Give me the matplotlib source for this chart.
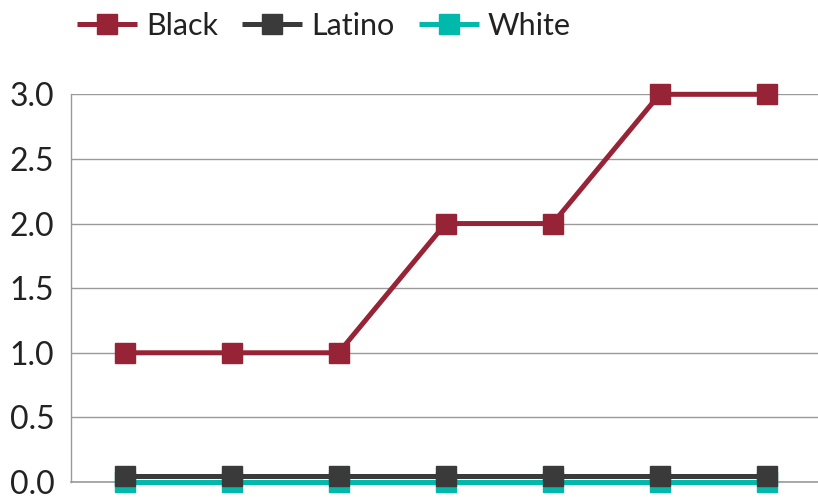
import numpy as np
import matplotlib
matplotlib.use('Agg')
import matplotlib.pyplot as plt
from matplotlib.transforms import offset_copy

plt.rcParams['font.family'] = ['Lato', 'DejaVu Sans']

# seven time points, no x labels shown in the picture
periods = list(range(7))
black = [1, 1, 1, 2, 2, 3, 3]
latino = [0, 0, 0, 0, 0, 0, 0]
white = [0, 0, 0, 0, 0, 0, 0]
yticks = [0.0, 0.5, 1.0, 1.5, 2.0, 2.5, 3.0]

col_black = '#972337'
col_latino = '#3a3a3a'
col_white = '#00b9aa'

fig = plt.figure(figsize=(8.18, 4.98), dpi=100)
ax = fig.add_axes([0.0868, 0.0321, 0.9132, 0.7785])

lw = 3.6
ms = 14.4
# white series sits on zero, latino drawn a few pixels above it
ax.plot(periods, white, color=col_white, lw=lw, marker='s', ms=ms,
        clip_on=False, zorder=3, label='White', solid_capstyle='butt')
up = offset_copy(ax.transData, fig=fig, x=0, y=6, units='dots')
ax.plot(periods, latino, color=col_latino, lw=lw, marker='s', ms=ms,
        clip_on=False, zorder=4, label='Latino', transform=up,
        solid_capstyle='butt')
ax.plot(periods, black, color=col_black, lw=lw, marker='s', ms=ms,
        clip_on=False, zorder=5, label='Black', solid_capstyle='butt')

ax.set_xlim(-0.5, 6.48)
ax.set_ylim(0, 3.0)
ax.set_yticks(yticks)
ax.set_yticklabels([f'{v:.1f}' for v in yticks])
ax.set_xticks([])
ax.yaxis.grid(True, color='#9a9a9a', lw=1.0)
ax.set_axisbelow(True)
for s in ['top', 'right']:
    ax.spines[s].set_visible(False)
ax.spines['left'].set_color('#9a9a9a')
ax.spines['bottom'].set_color('#9a9a9a')
ax.spines['left'].set_linewidth(1.0)
ax.spines['bottom'].set_linewidth(1.2)
ax.tick_params(axis='y', length=0, pad=12, labelsize=23, labelcolor='#222222')

h, l = ax.get_legend_handles_labels()
order = [2, 1, 0]
ax.legend([h[i] for i in order], [l[i] for i in order], ncol=3,
          loc='center', bbox_to_anchor=(324 / 818, 1 - 26 / 498),
          bbox_transform=fig.transFigure, frameon=False, fontsize=22,
          handlelength=1.95, handletextpad=0.3, columnspacing=0.8,
          labelcolor='#222222')

fig.savefig('out.png', dpi=100)
